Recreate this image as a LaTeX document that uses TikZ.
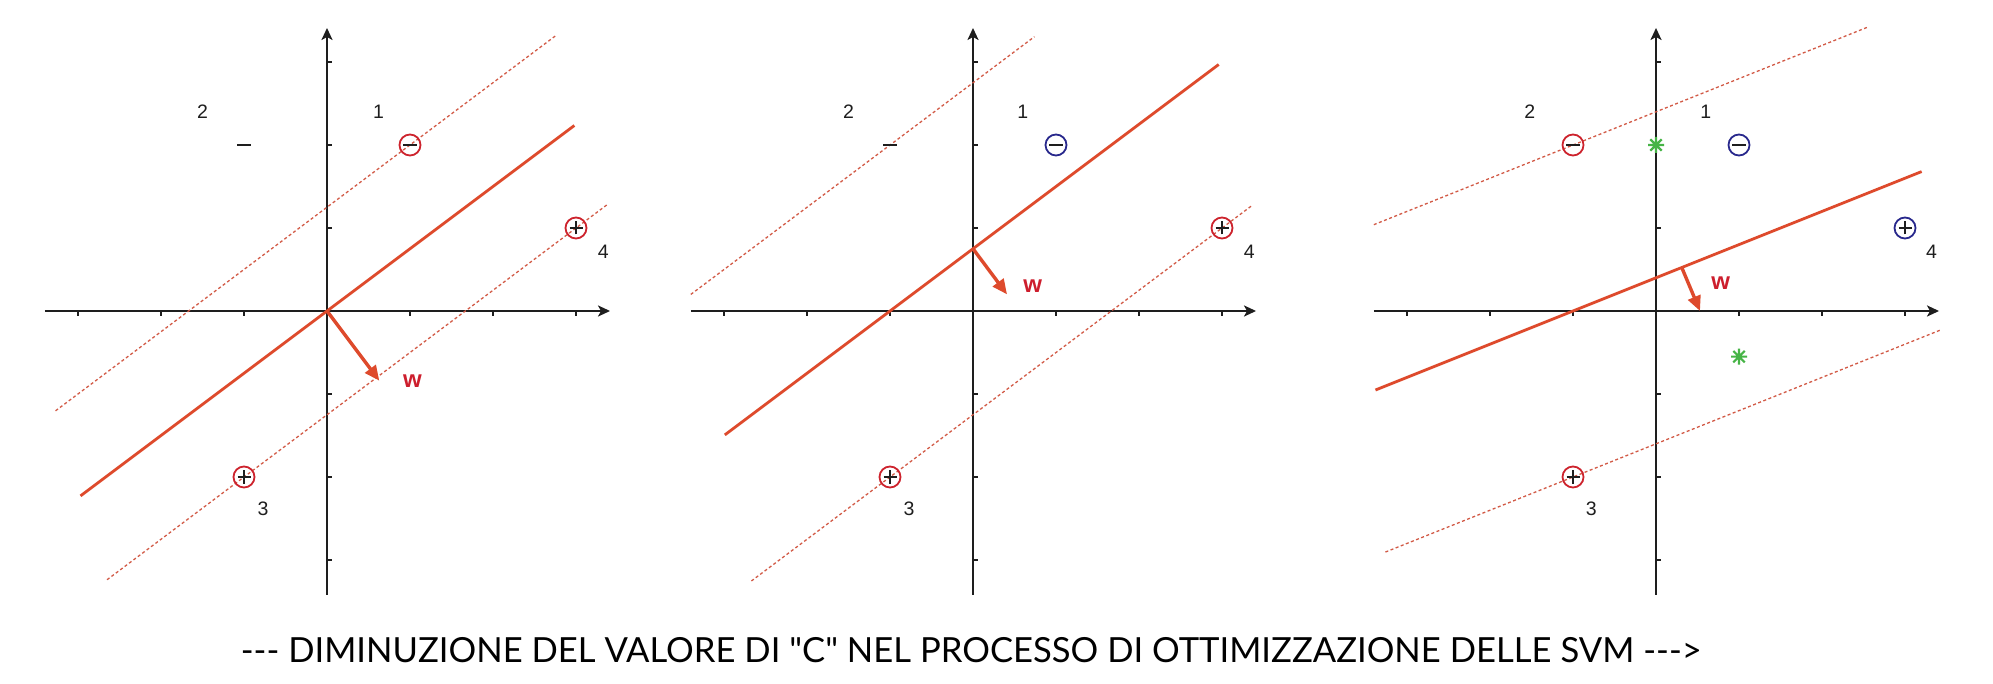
\documentclass[tikz,border=0pt]{standalone}
\usepackage{fontspec}
\newfontfamily\titlefont{Lato}
\newfontfamily\labfont{Liberation Sans}
\usetikzlibrary{arrows.meta}
\definecolor{hred}{RGB}{222,74,44}
\definecolor{dred}{RGB}{210,90,70}
\definecolor{cred}{RGB}{205,35,45}
\definecolor{cblue}{RGB}{40,40,140}
\definecolor{cgreen}{RGB}{70,180,70}
\definecolor{wred}{RGB}{205,30,45}
\definecolor{axk}{RGB}{30,30,30}
\tikzset{
  axisline/.style={line width=2.6pt,draw=axk,-{Stealth[length=12pt,width=11pt,inset=3pt]}},
  tickmark/.style={line width=1.2pt,draw=axk},
  hyper/.style={line width=2.8pt,draw=hred},
  margin/.style={line width=1.3pt,draw=dred,dash pattern=on 3pt off 2.5pt},
  warrow/.style={line width=3.4pt,draw=hred,-{Triangle[length=15pt,width=13pt]}},
  wlab/.style={font=\labfont\bfseries\fontsize{24}{24}\selectfont,text=wred,inner sep=0pt},
  numlab/.style={font=\labfont\fontsize{19.5}{19.5}\selectfont,text=axk,inner sep=0pt},
  ring/.style={circle,draw=#1,line width=1.8pt,minimum size=21pt,inner sep=0pt},
  plusmark/.pic={\draw[line width=1.8pt,axk] (-6.5pt,0)--(6.5pt,0) (0,-6.5pt)--(0,6.5pt);},
  minusmark/.pic={\draw[line width=1.8pt,axk] (-7pt,0)--(7pt,0);},
  starmark/.pic={\draw[line width=2.2pt,cgreen] (-8pt,0)--(8pt,0) (0,-8pt)--(0,8pt) (-5.7pt,-5.7pt)--(5.7pt,5.7pt) (-5.7pt,5.7pt)--(5.7pt,-5.7pt);},
}
\newcommand\drawaxes{%
  \draw[axisline] (-3.4,0) -- (3.41,0);
  \draw[axisline] (0,-3.42) -- (0,3.41);
  \foreach \t in {-3,-2,-1,1,2,3} {
    \draw[tickmark] (\t,0) -- ++(0,-5pt);
    \draw[tickmark] (0,\t) -- ++(5pt,0);
  }%
}
\begin{document}
\begin{tikzpicture}[x=1pt,y=1pt]
\useasboundingbox (0,0) rectangle (1993,683);
\fill[white] (0,0) rectangle (1993,683);

% ---------- Panel 1 ----------
\begin{scope}[shift={(327pt,372pt)},x=83pt,y=83pt]
  \drawaxes
  \draw[margin] (-3.27,{0.75*(-3.27)+1.25}) -- (2.77,{0.75*2.77+1.25});
  \draw[margin] (-2.65,{0.75*(-2.65)-1.25}) -- (3.37,{0.75*3.37-1.25});
  \draw[hyper] (-2.97,{0.75*(-2.97)}) -- (2.98,{0.75*2.98});
  \coordinate (w1s) at (0,0);
  \coordinate (w1e) at (0.63,-0.84);
  \draw[warrow] (w1s) -- (w1e);
  \node[wlab] (w1) at (1.03,-0.84) {w};
  \node[ring=cred] (p1a) at (1,2) {};
  \pic at (p1a) {minusmark};
  \pic (p1b) at (-1,2) {minusmark};
  \node[ring=cred] (p1c) at (-1,-2) {};
  \pic at (p1c) {plusmark};
  \node[ring=cred] (p1d) at (3,1) {};
  \pic at (p1d) {plusmark};
  \node[numlab] (l1a) at (0.62,2.4) {1};
  \node[numlab] (l1b) at (-1.5,2.4) {2};
  \node[numlab] (l1c) at (-0.77,-2.38) {3};
  \node[numlab] (l1d) at (3.33,0.71) {4};
\end{scope}

% ---------- Panel 2 ----------
\begin{scope}[shift={(973pt,372pt)},x=83pt,y=83pt]
  \drawaxes
  \draw[margin] (-3.4,{0.75*(-3.4)+2.75}) -- (0.74,{0.75*0.74+2.75});
  \draw[margin] (-2.67,{0.75*(-2.67)-1.25}) -- (3.36,{0.75*3.36-1.25});
  \draw[hyper] (-2.99,{0.75*(-2.99)+0.75}) -- (2.96,{0.75*2.96+0.75});
  \coordinate (w2s) at (0,0.75);
  \coordinate (w2e) at (0.41,0.2);
  \draw[warrow] (w2s) -- (w2e);
  \node[wlab] (w2) at (0.72,0.3) {w};
  \node[ring=cblue] (p2a) at (1,2) {};
  \pic at (p2a) {minusmark};
  \pic (p2b) at (-1,2) {minusmark};
  \node[ring=cred] (p2c) at (-1,-2) {};
  \pic at (p2c) {plusmark};
  \node[ring=cred] (p2d) at (3,1) {};
  \pic at (p2d) {plusmark};
  \node[numlab] (l2a) at (0.6,2.4) {1};
  \node[numlab] (l2b) at (-1.5,2.4) {2};
  \node[numlab] (l2c) at (-0.77,-2.38) {3};
  \node[numlab] (l2d) at (3.33,0.71) {4};
\end{scope}

% ---------- Panel 3 ----------
\begin{scope}[shift={(1656pt,372pt)},x=83pt,y=83pt]
  \drawaxes
  \draw[margin] (-3.4,{0.4*(-3.4)+2.4}) -- (2.55,{0.4*2.55+2.4});
  \draw[margin] (-3.26,{0.4*(-3.26)-1.6}) -- (3.42,{0.4*3.42-1.6});
  \draw[hyper] (-3.38,{0.4*(-3.38)+0.4}) -- (3.2,{0.4*3.2+0.4});
  \coordinate (w3s) at (0.31,{0.4*0.31+0.4});
  \coordinate (w3e) at (0.53,0.0);
  \draw[warrow] (w3s) -- (w3e);
  \node[wlab] (w3) at (0.78,0.34) {w};
  \node[ring=cred] (p3b) at (-1,2) {};
  \pic at (p3b) {minusmark};
  \node[ring=cblue] (p3a) at (1,2) {};
  \pic at (p3a) {minusmark};
  \node[ring=cred] (p3c) at (-1,-2) {};
  \pic at (p3c) {plusmark};
  \node[ring=cblue] (p3d) at (3,1) {};
  \pic at (p3d) {plusmark};
  \pic (s3a) at (0,2) {starmark};
  \pic (s3b) at (1,-0.55) {starmark};
  \node[numlab] (l3a) at (0.6,2.4) {1};
  \node[numlab] (l3b) at (-1.52,2.4) {2};
  \node[numlab] (l3c) at (-0.78,-2.38) {3};
  \node[numlab] (l3d) at (3.32,0.71) {4};
\end{scope}

% ---------- Title ----------
\node[anchor=base,inner sep=0pt,font=\titlefont\fontsize{34.6}{34.6}\selectfont,text=black] (title) at (971,21)
  {-{}-{}- DIMINUZIONE DEL VALORE DI "C" NEL PROCESSO DI OTTIMIZZAZIONE DELLE SVM -{}-{}-\textgreater};
\end{tikzpicture}
\end{document}
